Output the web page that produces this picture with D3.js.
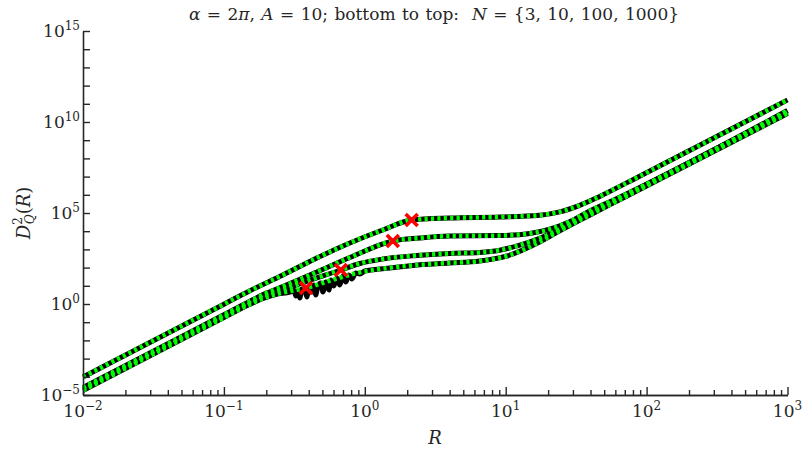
<!DOCTYPE html>
<html>
<head>
<meta charset="utf-8">
<script src="https://cdn.jsdelivr.net/npm/d3@7"></script>
<style>
  body { margin: 0; background: #fff; }
  text { font-family: "DejaVu Serif", "Liberation Serif", "Times New Roman", serif; fill: #262626; }
</style>
</head>
<body>
<svg id="chart" width="803" height="450"></svg>
<script>
// D_Q^2(R) for alpha = 2*pi, A = 10, one pair of arrays per N (smooth curves)
const rN1000 = [0.01, 0.1, 0.153, 0.262, 0.457, 0.783, 1.34, 2.15, 4.01, 9.06, 17.4, 24.2, 33.5, 46.4, 89.2, 1000];
const dN1000 = [9.8e-5, 0.977, 5.31, 39.2, 337, 2250, 1.16e4, 4.12e4, 5.31e4, 6.03e4, 7.52e4, 1.15e5, 2.64e5, 8.15e5, 1.05e7, 1.62e11];

const rN100 = [0.01, 0.1, 0.153, 0.2, 0.262, 0.457, 0.783, 1.58, 2.45, 4.01, 9.06, 14.8, 20.5, 28.4, 39.4, 64.4, 1000];
const dN100 = [2.57e-5, 0.257, 1.41, 3.95, 9.16, 57.3, 359, 2900, 4230, 5450, 5730, 7520, 1.30e4, 3.34e4, 1.29e5, 7.41e5, 4.29e10];

const rN10 = [0.01, 0.1, 0.153, 0.19, 0.23, 0.30, 0.382, 0.676, 0.922, 1.34, 2.34, 4.01, 6.54, 9.06, 12.6, 17.4, 24.2, 39.4, 64.4, 1000];
const dN10 = [2.14e-5, 0.214, 1.16, 2.69, 4.57, 8.91, 17.2, 73.8, 168, 297, 462, 596, 676, 900, 1700, 4030, 1.26e4, 9.64e4, 6.5e5, 3.55e10];

const rN3 = [0.01, 0.1, 0.153, 0.19, 0.24, 0.30, 0.382, 0.593, 0.922, 1.28, 2.19, 4.01, 6.54, 10.2, 17.4, 24.2, 39.4, 64.4, 1000];
const dN3 = [1.78e-5, 0.178, 0.964, 2.0, 3.55, 5.25, 7.57, 21.4, 55.0, 83.2, 132, 179, 231, 434, 2550, 1.05e4, 7.6e4, 5.38e5, 2.93e10];

// numerically evaluated N = 3 curve, which oscillates for 0.3 < R < 1
const rN3Noisy = [0.294, 0.314, 0.324, 0.335, 0.346, 0.357, 0.375, 0.388, 0.401, 0.421, 0.435, 0.449, 0.464, 0.488, 0.504, 0.529, 0.556, 0.574, 0.603, 0.633, 0.665, 0.698, 0.733, 0.770, 0.809, 0.863, 0.922, 1.0];
const dN3Noisy = [4.56, 5.87, 2.75, 5.18, 2.14, 6.67, 5.87, 2.43, 8.59, 4.56, 11.1, 3.13, 9.75, 14.3, 4.56, 16.2, 5.87, 20.8, 9.75, 26.8, 11.1, 34.5, 16.2, 39.2, 23.7, 50.5, 44.5, 65.0];

// crossover points marked with red crosses (N = 1000, 100, 10, 3)
const markR = [2.15, 1.58, 0.676, 0.382];
const markD = [4.12e4, 2900, 73.8, 7.57];

// axis tick labels (powers of ten)
const xTickExps = [-2, -1, 0, 1, 2, 3];
const yTickExps = [-5, 0, 5, 10, 15];
const yTickDecades = [-5, -4, -3, -2, -1, 0, 1, 2, 3, 4, 5, 6, 7, 8, 9, 10, 11, 12, 13, 14, 15];

const svg = d3.select("#chart");
const axisColor = "#262626";
const plot = { left: 83, right: 787.5, top: 31, bottom: 395 };

const x = d3.scaleLog().domain([1e-2, 1e3]).range([plot.left, plot.right]);
const y = d3.scaleLog().domain([1e-5, 1e15]).range([plot.bottom, plot.top]);

const zip = (rs, ds) => rs.map((r, i) => [r, ds[i]]);
const line = d3.line().x(d => x(d[0])).y(d => y(d[1])).curve(d3.curveMonotoneX);

const smooth = [zip(rN3, dN3), zip(rN10, dN10), zip(rN100, dN100), zip(rN1000, dN1000)];

// black numerical curves; N = 3 uses its oscillating samples in the middle range
const n3Black = zip(rN3, dN3).filter(d => d[0] < 0.29)
  .concat(zip(rN3Noisy, dN3Noisy))
  .concat(zip(rN3, dN3).filter(d => d[0] > 1.05));
const numerical = [n3Black, smooth[1], smooth[2], smooth[3]];

const gLines = svg.append("g");
gLines.selectAll("path.num").data(numerical).join("path")
  .attr("class", "num")
  .attr("d", line)
  .attr("fill", "none")
  .attr("stroke", "#000")
  .attr("stroke-width", 5)
  .attr("stroke-linejoin", "round");

gLines.selectAll("path.asym").data(smooth).join("path")
  .attr("class", "asym")
  .attr("d", line)
  .attr("fill", "none")
  .attr("stroke", "#00ff00")
  .attr("stroke-width", 4.5)
  .attr("stroke-dasharray", "3.2,3.2");

// red crosses
svg.append("g").selectAll("path").data(markR.map((r, i) => [r, markD[i]])).join("path")
  .attr("transform", d => `translate(${x(d[0])},${y(d[1])})`)
  .attr("d", d3.symbol().type(d3.symbolX).size(95))
  .attr("fill", "none")
  .attr("stroke", "#ff0000")
  .attr("stroke-width", 3.6);

// x axis: minor ticks, major ticks
const xAxisG = svg.append("g").attr("transform", `translate(0,${plot.bottom})`);
const xMajor = xTickExps.map(e => Math.pow(10, e));
const xMinor = x.ticks().filter(v => !xMajor.some(m => Math.abs(m - v) / m < 1e-9));
xAxisG.append("g").call(d3.axisBottom(x).tickValues(xMinor).tickSizeInner(-5).tickSizeOuter(0).tickFormat(""));
xAxisG.append("g").call(d3.axisBottom(x).tickValues(xMajor).tickSizeInner(-8).tickSizeOuter(0).tickFormat(""));

// y axis: one tick per decade
const yAxisG = svg.append("g").attr("transform", `translate(${plot.left},0)`);
yAxisG.call(d3.axisLeft(y).tickValues(yTickDecades.map(e => Math.pow(10, e))).tickSizeInner(-7).tickSizeOuter(0).tickFormat(""));

svg.selectAll(".domain").attr("stroke", axisColor).attr("stroke-width", 1.6);
svg.selectAll(".tick line").attr("stroke", axisColor).attr("stroke-width", 1.4);

const sup = e => (e < 0 ? "\u2212" + Math.abs(e) : String(e));
const serif = '"DejaVu Serif", "Liberation Serif", serif';

// x tick labels
xTickExps.forEach(e => {
  const t = svg.append("text")
    .attr("x", x(Math.pow(10, e)))
    .attr("y", 417)
    .attr("text-anchor", "middle")
    .style("font-family", serif)
    .style("font-size", "17px");
  t.append("tspan").text("10");
  t.append("tspan").attr("dy", -7).style("font-size", "12px").text(sup(e));
});

// y tick labels
yTickExps.forEach(e => {
  const t = svg.append("text")
    .attr("x", 80)
    .attr("y", y(Math.pow(10, e)) + 5.5)
    .attr("text-anchor", "end")
    .style("font-family", serif)
    .style("font-size", "17px");
  t.append("tspan").text("10");
  t.append("tspan").attr("dy", -7).style("font-size", "12px").text(sup(e));
});

// title
const title = svg.append("text")
  .attr("x", 434).attr("y", 20)
  .attr("text-anchor", "middle")
  .style("font-family", serif)
  .style("font-size", "17px")
  .style("word-spacing", "1px")
  .attr("xml:space", "preserve");
[
  ["\u03b1", true], [" = 2", false], ["\u03c0", true], [", ", false], ["A", true],
  [" = 10; bottom to top:  ", false], ["N", true], [" = {3, 10, 100, 1000}", false]
].forEach(([s, it]) => title.append("tspan").style("font-style", it ? "italic" : "normal").text(s));

// x axis label
svg.append("text")
  .attr("x", 435).attr("y", 444)
  .attr("text-anchor", "middle")
  .style("font-family", serif)
  .style("font-size", "18px").style("font-style", "italic")
  .text("R");

// y axis label: D_Q^2(R)
const yl = svg.append("text")
  .attr("transform", "translate(30,213) rotate(-90)")
  .attr("text-anchor", "middle")
  .style("font-family", serif)
  .style("font-size", "18px");
yl.append("tspan").style("font-style", "italic").text("D");
yl.append("tspan").attr("dy", -8).style("font-size", "12px").text("2");
yl.append("tspan").attr("dx", -7).attr("dy", 12).style("font-size", "12px").style("font-style", "italic").text("Q");
yl.append("tspan").attr("dy", -4).text("(");
yl.append("tspan").style("font-style", "italic").text("R");
yl.append("tspan").text(")");
</script>
</body>
</html>
